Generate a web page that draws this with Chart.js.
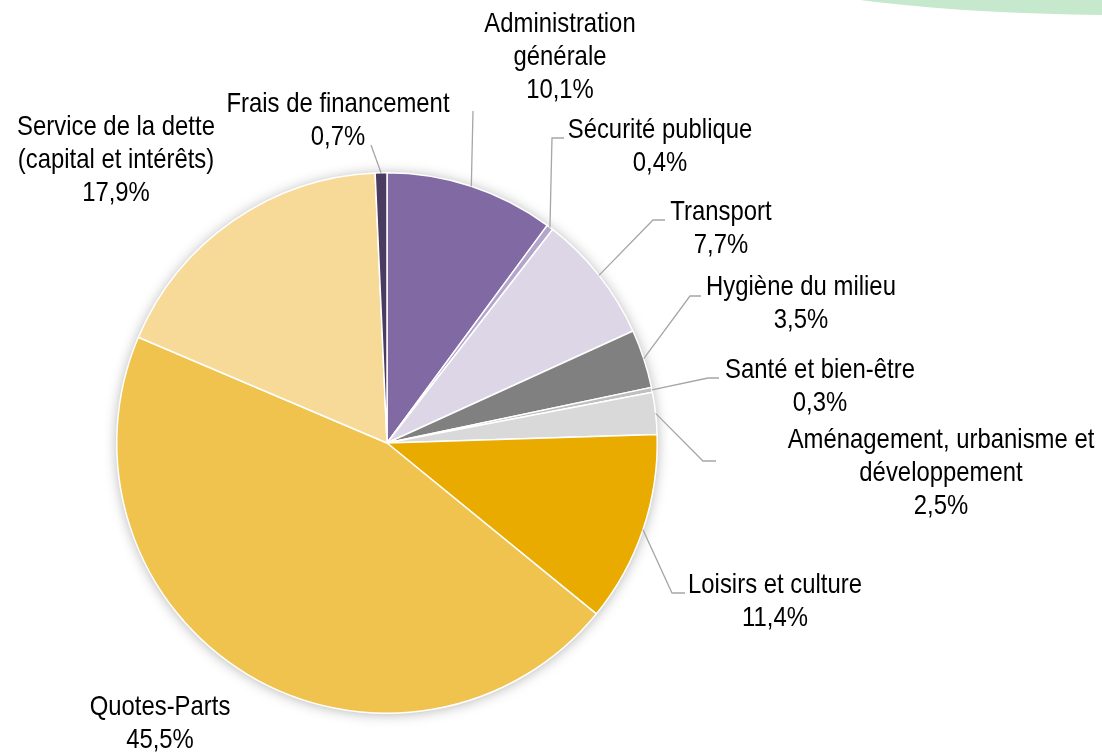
<!DOCTYPE html>
<html>
<head>
<meta charset="utf-8">
<script src="https://cdn.jsdelivr.net/npm/chart.js@4"></script>
<style>
  html, body { margin: 0; padding: 0; background: #fff; }
  #wrap { width: 1102px; height: 755px; position: relative; }
</style>
</head>
<body>
<div id="wrap"><canvas id="pie"></canvas></div>
<script>
const categories = [
  ['Administration', 'générale'],
  ['Sécurité publique'],
  ['Transport'],
  ['Hygiène du milieu'],
  ['Santé et bien-être'],
  ['Aménagement, urbanisme et', 'développement'],
  ['Loisirs et culture'],
  ['Quotes-Parts'],
  ['Service de la dette', '(capital et intérêts)'],
  ['Frais de financement']
];
const shares = [10.1, 0.4, 7.7, 3.5, 0.3, 2.5, 11.4, 45.5, 17.9, 0.7];
const colors = ['#8169A3', '#B4A5CB', '#DDD6E7', '#808080', '#BFBFBF',
                '#D9D9D9', '#E9AB00', '#F0C34E', '#F7DA98', '#4A3B61'];

// label placement: text centre x, first baseline y, leader elbow + end (null = no leader)
const labelLayout = [
  { x: 560, y: 32,  leader: [[473, 111]] },
  { x: 660, y: 138, leader: [[552, 138], [564, 138]] },
  { x: 721, y: 220, leader: [[653, 220], [665, 220]] },
  { x: 801, y: 295, leader: [[690, 296], [701, 296]] },
  { x: 820, y: 378, leader: [[708, 378], [719, 378]] },
  { x: 941, y: 448, leader: [[703, 461], [716, 461]] },
  { x: 775, y: 593, leader: [[672, 593], [685, 593]] },
  { x: 160, y: 715, leader: null },
  { x: 116, y: 135, leader: null },
  { x: 338, y: 112, leader: [[371, 145]] }
];

const fmt = v => v.toFixed(1).replace('.', ',') + '%';
const FONT = '28px "Liberation Sans", Arial, sans-serif';
const NARROW = 0.853;
const LINE = 33;

const decoPlugin = {
  id: 'deco',
  beforeDraw(chart) {
    const ctx = chart.ctx;
    ctx.save();
    ctx.fillStyle = '#C6E8CD';
    ctx.beginPath();
    ctx.ellipse(1120, -85, 493, 100, 0, 0, Math.PI * 2);
    ctx.fill();
    ctx.restore();
  },
  beforeDatasetsDraw(chart) {
    const arc = chart.getDatasetMeta(0).data[0];
    if (!arc) return;
    const ctx = chart.ctx;
    ctx.save();
    ctx.shadowColor = 'rgba(0,0,0,0.35)';
    ctx.shadowBlur = 14;
    ctx.shadowOffsetX = 0;
    ctx.shadowOffsetY = 1;
    ctx.fillStyle = '#fff';
    ctx.beginPath();
    ctx.arc(arc.x, arc.y, arc.outerRadius - 1, 0, Math.PI * 2);
    ctx.fill();
    ctx.restore();
  }
};

const labelPlugin = {
  id: 'pieLabels',
  afterDatasetsDraw(chart) {
    const ctx = chart.ctx;
    const arcs = chart.getDatasetMeta(0).data;
    ctx.save();
    arcs.forEach((arc, i) => {
      const lay = labelLayout[i];
      const mid = (arc.startAngle + arc.endAngle) / 2;
      if (lay.leader) {
        ctx.strokeStyle = '#A6A6A6';
        ctx.lineWidth = 1.3;
        ctx.beginPath();
        ctx.moveTo(arc.x + arc.outerRadius * Math.cos(mid), arc.y + arc.outerRadius * Math.sin(mid));
        lay.leader.forEach(p => ctx.lineTo(p[0], p[1]));
        ctx.stroke();
      }
      const lines = categories[i].concat([fmt(shares[i])]);
      ctx.fillStyle = '#000';
      ctx.font = FONT;
      ctx.textAlign = 'center';
      ctx.textBaseline = 'alphabetic';
      lines.forEach((t, k) => {
        ctx.save();
        ctx.translate(lay.x, lay.y + k * LINE);
        ctx.scale(NARROW, 1);
        ctx.fillText(t, 0, 0);
        ctx.restore();
      });
    });
    ctx.restore();
  }
};

new Chart(document.getElementById('pie'), {
  type: 'pie',
  data: {
    labels: categories.map(c => c.join(' ')),
    datasets: [{
      data: shares,
      backgroundColor: colors,
      borderColor: '#fff',
      borderWidth: 1.5
    }]
  },
  options: {
    responsive: true,
    maintainAspectRatio: false,
    animation: false,
    layout: { padding: { left: 116, right: 444, top: 172, bottom: 41 } },
    plugins: {
      legend: { display: false },
      tooltip: { enabled: false }
    }
  },
  plugins: [decoPlugin, labelPlugin]
});
</script>
</body>
</html>
